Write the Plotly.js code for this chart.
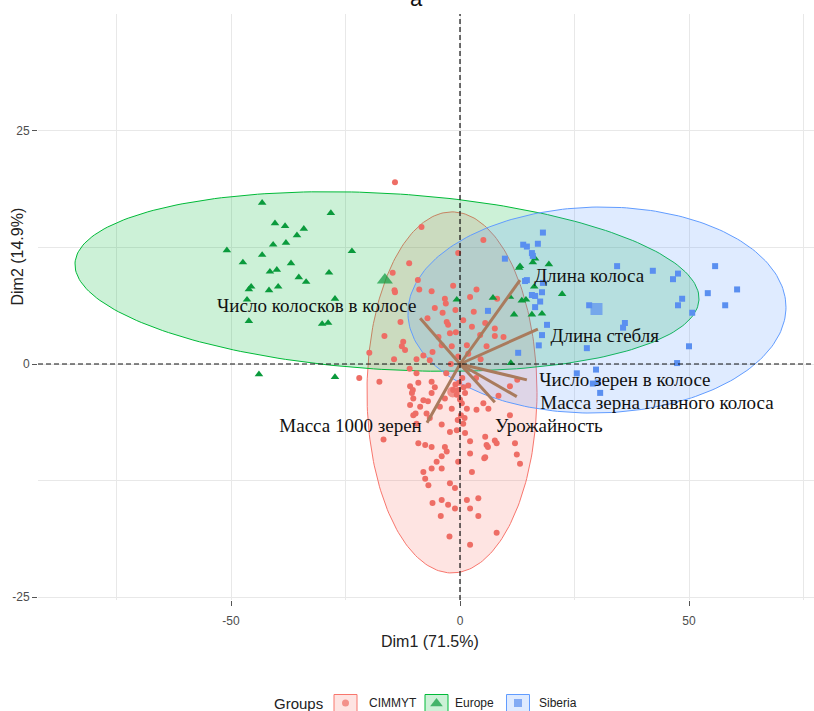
<!DOCTYPE html>
<html><head><meta charset="utf-8">
<script src="https://cdn.plot.ly/plotly-3.0.1.min.js"></script>
<style>body{margin:0;background:#fff}#chart{width:814px;height:711px}</style>
</head><body><div id="chart"></div>
<script>
// ---------------- data ----------------
const groups = ['CIMMYT', 'Europe', 'Siberia'];
const groupColors = ['#F8766D', '#00BA38', '#619CFF'];
const markerColors = ['#ee6d65', '#0a9a3c', '#5a8ff0'];
const fillColors = ['rgba(248,118,109,0.2)', 'rgba(0,186,56,0.2)', 'rgba(97,156,255,0.2)'];
const symbols = ['circle', 'triangle-up', 'square'];

const cimmytX = [-8.4,5.1,-0.4,-11.1,-14.7,-9.2,-8.9,-14.3,-6.2,-1.5,3.6,-3.3,-3.1,2.2,8.1,-7.1,-2.9,-2.6,0.7,2.6,5.5,7.6,9.5,7.6,4.4,-0.9,-2.2,-4.7,-12.4,-12.7,-12.0,-14.4,-9.5,-8.0,-6.0,-4.0,-1.8,1.5,1.8,5.8,-0.4,-17.6,-10.9,-9.1,-6.2,-10.5,-1.5,-0.4,1.8,10.9,12.5,-14.2,-14.2,-19.8,-22.0,-9.5,-6.6,
  -10.2,-8.0,-10.9,-8.7,-6.2,-3.3,-0.7,1.1,0.4,1.5,-1.8,-4.4,3.6,5.1,6.2,8.4,10.9,-10.2,-7.3,-9.5,-6.6,-4.0,-2.2,-0.7,0.7,1.1,-16.7,-9.1,-7.6,-6.2,-3.3,-2.9,-4.0,-5.1,-4.0,-6.2,-0.4,2.2,2.2,5.5,5.8,7.6,8.0,12.0,5.3,13.1,2.6,-8.0,-7.6,-6.9,-2.2,-1.1,-6.0,-4.0,-2.6,-1.1,1.5,4.0,2.2,-4.2,4.0,8.0,-2.3,2.2,12.4,6.1,5.5,
  -0.2,0.5,0.2,-0.5,1.0,0.0,-1.0,0.8,-7.0,-5.5,-10.3,-9.7,-3.8,-5.5,-1.0,3.0,-13.0,-16.5,-11.0,-3.0,3.5,4.5,-2.0];
const cimmytY = [14.7,13.3,11.9,10.8,9.8,9.0,8.0,7.9,7.8,8.4,8.0,7.0,6.5,7.2,7.0,4.9,4.5,4.2,4.7,4.0,4.4,3.8,2.9,3.0,3.1,3.4,3.3,2.9,2.4,1.9,1.5,0.5,0.5,0.9,1.3,2.0,1.9,2.0,1.1,1.9,0.8,-1.9,-2.4,-2.0,-1.9,-3.1,-2.8,-2.8,-2.3,-2.4,-1.7,19.5,7.7,1.2,-1.5,-1.0,0.4,
  -3.7,-3.9,-4.4,-4.6,-3.1,-3.7,-3.3,-3.1,-4.2,-4.8,-4.8,-4.6,-4.9,-4.2,-4.8,-3.4,-5.5,-5.5,-5.3,-6.4,-5.8,-6.5,-7.3,-7.1,-6.4,-7.4,-8.1,-8.5,-8.7,-8.9,-8.9,-9.4,-9.9,-10.5,-11.2,-11.2,-10.5,-8.3,-9.6,-7.8,-8.7,-8.2,-8.5,-8.5,-10.1,-10.7,-11.6,-11.6,-12.3,-13.0,-12.8,-13.3,-14.9,-14.6,-15.1,-15.5,-14.6,-14.4,-15.5,-16.3,-16.3,-18.1,-18.5,-19.4,-9.7,-8.9,-10.0,
  -2.0,-1.5,-5.5,-6.0,-5.8,-3.8,-2.2,-2.5,-4.0,-2.5,-2.8,-5.3,5.5,6.0,5.8,5.6,4.5,3.0,-0.5,-1.0,-1.5,0.5,0.0];

const europeX = [-43.2,-28.2,-40.4,-38.2,-34.1,-35.6,-40.8,-38.0,-50.9,-23.6,-43.2,-47.4,-36.9,-41.5,-40.0,-28.6,-35.2,-33.6,-45.6,-46.1,-41.7,-39.7,-46.5,-27.3,-46.1,-30.1,-28.8,-43.9,-27.3,-0.7,7.2,10.9,11.8,15.7,17.9,12.9,15.9,16.4,19.4,14.4,13.5,16.2,22.3,11.1,13.1];
const europeY = [17.3,16.2,15.1,14.8,14.5,13.8,12.8,13.0,12.2,12.1,11.7,10.9,10.8,9.9,10.1,9.8,9.3,8.8,8.3,8.0,7.9,8.3,6.9,7.0,4.6,4.3,4.4,-1.1,-1.4,6.9,7.1,7.2,5.3,5.3,5.4,10.3,10.9,11.3,10.7,6.9,6.8,8.3,7.5,0.1,10.5];

const siberiaX = [18.1,17.0,13.8,14.6,15.7,15.9,9.8,34.3,42.1,47.6,46.5,55.7,14.2,18.1,17.9,15.7,16.4,17.5,16.4,54.1,60.5,57.9,48.5,47.6,50.7,28.2,36.0,35.6,6.1,19.0,17.9,17.2,12.7,27.7,50.0,47.4,29.7,25.5,30.1,30.6,29.0,14.6];
const siberiaY = [14.1,12.9,12.8,12.6,11.9,11.6,11.3,10.5,10.0,9.7,9.1,10.5,8.9,8.7,7.7,7.4,7.3,6.7,6.1,7.6,8.0,6.3,7.0,6.3,5.5,6.3,4.4,3.9,5.7,4.2,3.1,2.0,1.2,1.7,1.9,0.1,-0.6,-1.0,-2.0,-3.1,-2.1,9.0];

// group means (large markers)
const meanX = [-1.6, -16.4, 29.8];
const meanY = [-3.0, 9.0, 5.9];

// confidence ellipses: centre and two conjugate semi-axis vectors (data units)
const ellCX = [-1.75, -15.94, 29.9];
const ellCY = [-3.05, 8.85, 5.79];
const ellUX = [18.56, 68.12, 41.27];
const ellUY = [0.0, -1.98, 0.3];
const ellVX = [0.0, 1.14, 0.0];
const ellVY = [19.37, 9.43, 11.05];

// variables (arrows)
const varNames = ['Длина колоса', 'Длина стебля', 'Число зерен в колосе', 'Масса зерна главного колоса', 'Урожайность', 'Масса 1000 зерен', 'Число колосков в колосе'];
const varX = [13.1, 17.0, 14.6, 12.4, 7.6, -7.2, -8.7];
const varY = [9.0, 3.75, -1.7, -3.5, -4.1, -6.3, 4.9];
const labelX = [28.2, 31.6, 36.0, 43.0, 19.4, -23.9, -31.3];
const labelY = [9.3, 2.9, -1.8, -4.3, -6.8, -6.8, 6.1];

// axes
const xTickVals = [-50, 0, 50];
const xTickText = ['-50', '0', '50'];
const xMinor = [-75, -25, 25, 75];
const yTickVals = [-25, 0, 25];
const yTickText = ['-25', '0', '25'];
const yMinor = [-12.5, 12.5, 37.5];
const xRange = [-92.14, 77.29];
const yRange = [-25.32, 37.55];

// ---------------- build ----------------
const pts = [[cimmytX, cimmytY], [europeX, europeY], [siberiaX, siberiaY]];
const ptSize = [6, 7.5, 6];
const traces = [];

for (let g = 0; g < 3; g++) {
  const ex = [], ey = [];
  const N = 240;
  for (let i = 0; i <= N; i++) {
    const t = 2 * Math.PI * i / N;
    ex.push(ellCX[g] + ellUX[g] * Math.cos(t) + ellVX[g] * Math.sin(t));
    ey.push(ellCY[g] + ellUY[g] * Math.cos(t) + ellVY[g] * Math.sin(t));
  }
  traces.push({x: ex, y: ey, type: 'scatter', mode: 'lines', fill: 'toself',
    fillcolor: fillColors[g], line: {color: groupColors[g], width: 1},
    hoverinfo: 'skip', showlegend: false, xaxis: 'x', yaxis: 'y'});
}
for (let g = 0; g < 3; g++) {
  traces.push({x: pts[g][0], y: pts[g][1], type: 'scatter', mode: 'markers',
    marker: {symbol: symbols[g], size: ptSize[g], color: markerColors[g], line: {width: 0}},
    name: groups[g], showlegend: false, xaxis: 'x', yaxis: 'y'});
}
traces.push({x: meanX, y: meanY, type: 'scatter', mode: 'markers',
  marker: {symbol: symbols, size: [11, 14, 12], color: markerColors, line: {width: 0}},
  showlegend: false, hoverinfo: 'skip', xaxis: 'x', yaxis: 'y'});

const ax = [], ay = [];
for (let i = 0; i < varX.length; i++) { ax.push(0, varX[i], null); ay.push(0, varY[i], null); }
traces.push({x: ax, y: ay, type: 'scatter', mode: 'lines',
  line: {color: '#a97b5d', width: 3}, hoverinfo: 'skip', showlegend: false, xaxis: 'x', yaxis: 'y'});
traces.push({x: labelX, y: labelY, text: varNames, type: 'scatter', mode: 'text',
  textposition: 'middle center',
  textfont: {family: 'Liberation Serif, Times New Roman, serif', size: 19, color: '#111'},
  hoverinfo: 'skip', showlegend: false, cliponaxis: false, xaxis: 'x', yaxis: 'y'});

// ---------------- legend (drawn on a small helper axis, pixel-like units) ----------------
const legKeyX = [345.5, 436.5, 518];
const legTextX = [367, 453, 537];
const legY = 703;
traces.push({x: legKeyX, y: [legY, legY + 0.5, legY], type: 'scatter', mode: 'markers',
  marker: {symbol: symbols, size: [7, 11, 8], color: markerColors, line: {width: 0}},
  showlegend: false, hoverinfo: 'skip', xaxis: 'x2', yaxis: 'y2'});

const shapes = [
  {type: 'line', xref: 'x', yref: 'y domain', x0: 0, x1: 0, y0: 0, y1: 1,
   line: {color: '#111', width: 1.2, dash: '5px,3px'}, layer: 'above'},
  {type: 'line', xref: 'x domain', yref: 'y', x0: 0, x1: 1, y0: 0, y1: 0,
   line: {color: '#111', width: 1.2, dash: '5px,3px'}, layer: 'above'}
];
for (let g = 0; g < 3; g++) {
  shapes.push({type: 'rect', xref: 'x2', yref: 'y2', x0: legKeyX[g] - 11.5, x1: legKeyX[g] + 11.5,
    y0: legY - 8.5, y1: legY + 9, fillcolor: fillColors[g], line: {color: groupColors[g], width: 1}, layer: 'below'});
}

const sans = 'Liberation Sans, Arial, sans-serif';
const annotations = [
  {text: 'Dim2 (14.9%)', xref: 'paper', yref: 'paper', x: -0.0258, y: 0.652, textangle: -90,
   xanchor: 'center', yanchor: 'middle',
   showarrow: false, font: {family: sans, size: 16, color: '#222'}},
  {text: 'Dim1 (71.5%)', xref: 'paper', yref: 'paper', x: 0.505, y: 0.1, xanchor: 'center', yanchor: 'middle',
   showarrow: false, font: {family: sans, size: 16, color: '#222'}},
  {text: 'a', xref: 'paper', yref: 'paper', x: 0.4884, y: 1.0014, xanchor: 'center', yanchor: 'bottom',
   showarrow: false, font: {family: sans, size: 22, color: '#111'}},
  {text: 'Groups', xref: 'x2', yref: 'y2', x: 325, y: legY, xanchor: 'right', yanchor: 'middle',
   showarrow: false, font: {family: sans, size: 15, color: '#222'}}
];
for (let g = 0; g < 3; g++) {
  annotations.push({text: groups[g], xref: 'x2', yref: 'y2', x: legTextX[g], y: legY, xanchor: 'left', yanchor: 'middle',
    showarrow: false, font: {family: sans, size: 12, color: '#222'}});
}

const gridC = '#e8e8e8';
const layout = {
  width: 814, height: 711,
  margin: {l: 38, r: 0, t: 14, b: 0},
  paper_bgcolor: '#fff', plot_bgcolor: '#fff',
  showlegend: false,
  font: {family: sans, color: '#4d4d4d'},
  xaxis: {domain: [0, 1], range: xRange, tickmode: 'array', tickvals: xTickVals, ticktext: xTickText,
    ticks: 'outside', ticklen: 5, tickcolor: '#555', tickfont: {size: 12, color: '#4d4d4d'},
    ticklabelstandoff: 5,
    showgrid: true, gridcolor: gridC, gridwidth: 1, zeroline: false, showline: false,
    minor: {tickmode: 'array', tickvals: xMinor, showgrid: true, gridcolor: gridC, gridwidth: 1},
    anchor: 'y'},
  yaxis: {domain: [0.15925, 1], range: yRange, tickmode: 'array', tickvals: yTickVals, ticktext: yTickText,
    ticks: 'outside', ticklen: 5, tickcolor: '#555', tickfont: {size: 12, color: '#4d4d4d'},
    showgrid: true, gridcolor: gridC, gridwidth: 1, zeroline: false, showline: false,
    minor: {tickmode: 'array', tickvals: yMinor, showgrid: true, gridcolor: gridC, gridwidth: 1},
    anchor: 'x'},
  xaxis2: {domain: [0, 1], range: [38, 814], visible: false, anchor: 'y2', fixedrange: true},
  yaxis2: {domain: [0, 30 / 697], range: [711, 681], visible: false, anchor: 'x2', fixedrange: true},
  shapes: shapes,
  annotations: annotations
};

Plotly.newPlot('chart', traces, layout, {displayModeBar: false, staticPlot: true});
</script>
</body></html>
